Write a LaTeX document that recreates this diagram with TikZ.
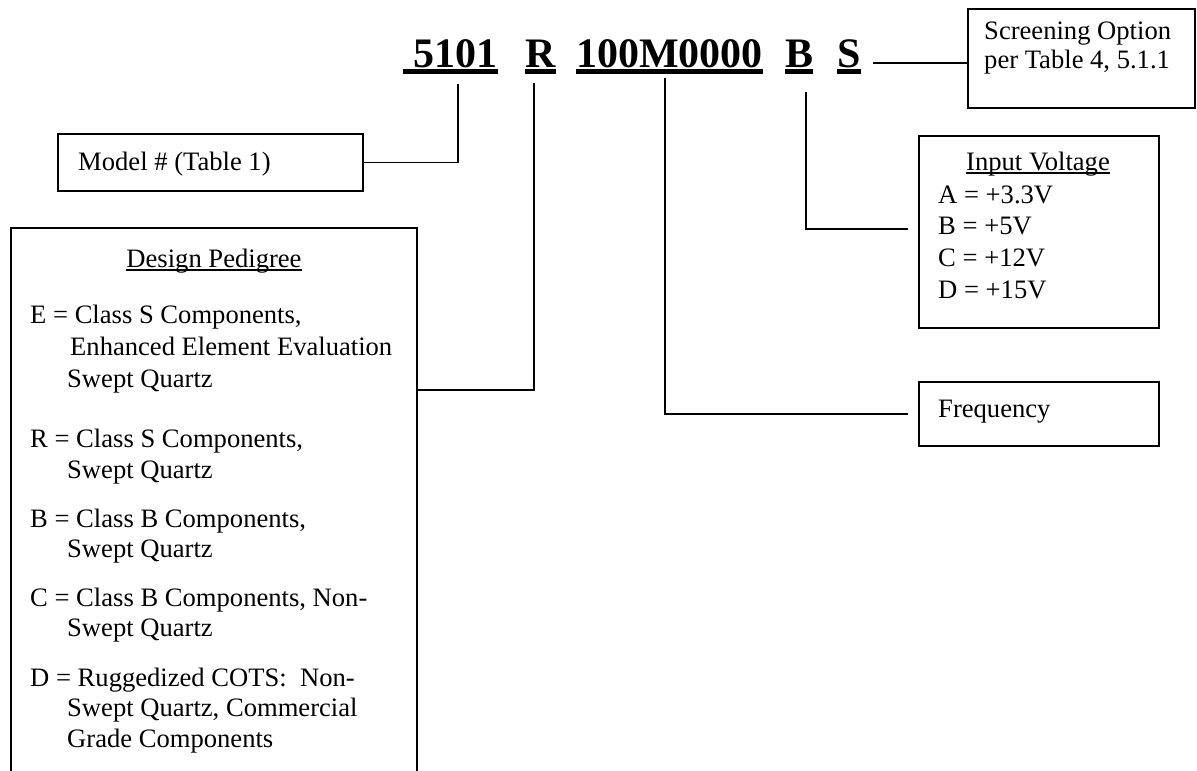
\documentclass[tikz,border=0pt]{standalone}
\usepackage{fontspec}
\setmainfont{Liberation Serif}
\begin{document}
\begin{tikzpicture}[x=1pt,y=-1pt,
  box/.style={draw, line width=1.8pt, inner sep=0pt, anchor=north west},
  lbl/.style={anchor=base west, inner sep=0pt, font=\fontsize{26.6}{31}\selectfont},
  hdr/.style={anchor=base, inner sep=0pt, font=\fontsize{26.6}{31}\selectfont},
  ttl/.style={anchor=base west, inner sep=0pt, font=\fontsize{42}{50}\selectfont\bfseries},
  conn/.style={line width=1.8pt},
  uline/.style={line width=4.5pt},
  thinu/.style={line width=1.3pt}]
\clip (0,0) rectangle (1197,771);
% title
\node[ttl] (t5101) at (403,67) {\hspace*{0.25em}5101};
\node[ttl] (tR) at (525,67) {R};
\node[ttl] (tM) at (576,67) {100M0000};
\node[ttl] (tB) at (785,67) {B};
\node[ttl] (tS) at (837,67) {S};
\foreach \n in {t5101,tR,tM,tB,tS}
  \draw[uline] ([yshift=-4.5pt]\n.base west) -- ([yshift=-4.5pt]\n.base east);
% boxes
\node[box, minimum width=305pt, minimum height=57pt] (model) at (57,133) {};
\node[box, minimum width=406pt, minimum height=600pt] (design) at (10,227) {};
\node[box, minimum width=240pt, minimum height=192pt] (volt) at (918,135) {};
\node[box, minimum width=240pt, minimum height=64pt] (freq) at (918,381) {};
\node[box, minimum width=227pt, minimum height=99pt] (screen) at (967,8) {};
% texts
\node[lbl] (mtxt) at (78,170) {Model \# (Table 1)};
\node[lbl] (s1) at (984,39) {Screening Option};
\node[lbl] (s2) at (984,68) {per Table 4, 5.1.1};
\node[hdr] (iv) at (1038,170) {Input Voltage};
\draw[thinu] ([yshift=-3pt]iv.base west) -- ([yshift=-3pt]iv.base east);
\node[lbl] (va) at (938,203) {A = +3.3V};
\node[lbl] (vb) at (938,234) {B = +5V};
\node[lbl] (vc) at (938,266) {C = +12V};
\node[lbl] (vd) at (938,298) {D = +15V};
\node[lbl] (ftxt) at (938,417) {Frequency};
\node[hdr] (dp) at (214,267) {Design Pedigree};
\draw[thinu] ([yshift=-3pt]dp.base west) -- ([yshift=-3pt]dp.base east);
\node[lbl] (e1) at (30,323) {E = Class S Components,};
\node[lbl] (e2) at (70,355) {Enhanced Element Evaluation};
\node[lbl] (e3) at (67,387) {Swept Quartz};
\node[lbl] (r1) at (30,447) {R = Class S Components,};
\node[lbl] (r2) at (67,478) {Swept Quartz};
\node[lbl] (b1) at (30,527) {B = Class B Components,};
\node[lbl] (b2) at (67,557) {Swept Quartz};
\node[lbl] (c1t) at (30,606) {C = Class B Components, Non-};
\node[lbl] (c2t) at (67,636) {Swept Quartz};
\node[lbl] (d1) at (30,686) {D = Ruggedized COTS:\ \ Non-};
\node[lbl] (d2) at (67,716) {Swept Quartz, Commercial};
\node[lbl] (d3) at (67,747) {Grade Components};
% connectors
\coordinate (k1) at (458,84);
\draw[conn] (k1) |- (model.east);
\coordinate (k2) at (534,83);
\coordinate (k2b) at (534,390);
\draw[conn] (k2) -- (k2b) -- (k2b -| design.east);
\coordinate (fw) at ([xshift=-10pt]freq.west);
\coordinate (k3) at (665,78);
\draw[conn] (k3) |- (fw);
\coordinate (vw) at ([xshift=-10pt]volt.west);
\coordinate (k4) at (806,92);
\coordinate (k4b) at (806,229);
\draw[conn] (k4) -- (k4b) -- (k4b -| vw);
\coordinate (k5) at (873,63);
\draw[conn] (k5) -- (k5 -| screen.west);
\end{tikzpicture}
\end{document}
